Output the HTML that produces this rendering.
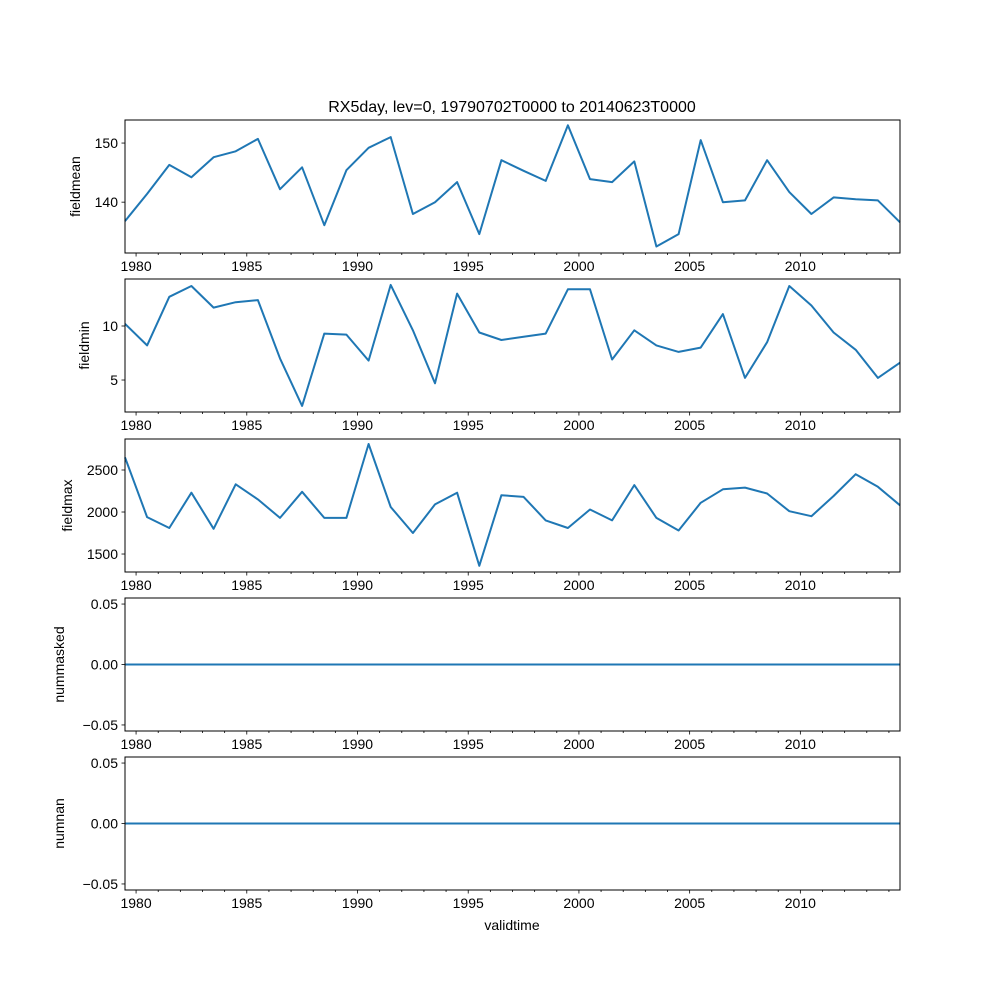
<!DOCTYPE html>
<html><head><meta charset="utf-8"><style>
html,body{margin:0;padding:0;background:#fff}
svg text{font-family:"Liberation Sans","DejaVu Sans",sans-serif;fill:#000}
</style></head><body>
<svg id="fig" width="1000" height="1000" xmlns="http://www.w3.org/2000/svg">
<rect width="1000" height="1000" fill="#fff"/>
<text x="512" y="112" font-size="16" text-anchor="middle">RX5day, lev=0, 19790702T0000 to 20140623T0000</text>
<text x="512" y="930" font-size="14" text-anchor="middle">validtime</text>
</svg>
<script>
const years = [];
for (let i = 0; i < 36; i++) years.push(1979.5 + i);
const fieldmean = [136.8,141.4,146.3,144.2,147.6,148.6,150.7,142.2,145.9,136.1,145.4,149.2,151.0,138.0,140.0,143.4,134.6,147.1,145.3,143.6,153.0,143.9,143.4,146.9,132.5,134.6,150.5,140.0,140.3,147.1,141.7,138.0,140.8,140.5,140.3,136.6];
const fieldmin = [10.2,8.2,12.7,13.7,11.7,12.2,12.4,7.0,2.6,9.3,9.2,6.8,13.8,9.6,4.7,13.0,9.4,8.7,9.0,9.3,13.4,13.4,6.9,9.6,8.2,7.6,8.0,11.1,5.2,8.5,13.7,11.9,9.4,7.8,5.2,6.6];
const fieldmax = [2650,1940,1810,2230,1800,2330,2150,1930,2240,1930,1930,2810,2060,1750,2090,2230,1360,2200,2180,1900,1810,2030,1900,2320,1930,1780,2110,2270,2290,2220,2010,1950,2190,2450,2300,2080];
const nummasked = new Array(36).fill(0);
const numnan = new Array(36).fill(0);
const xTicks = [1980,1985,1990,1995,2000,2005,2010];
const panels = [
  {name:'fieldmean', data:fieldmean, lo:131.4, hi:153.9, ticks:[140,150], labels:['140','150'], top:120},
  {name:'fieldmin', data:fieldmin, lo:2.04, hi:14.35, ticks:[5,10], labels:['5','10'], top:279},
  {name:'fieldmax', data:fieldmax, lo:1286, hi:2869, ticks:[1500,2000,2500], labels:['1500','2000','2500'], top:439},
  {name:'nummasked', data:nummasked, lo:-0.055, hi:0.055, ticks:[-0.05,0,0.05], labels:['\u22120.05','0.00','0.05'], top:598},
  {name:'numnan', data:numnan, lo:-0.055, hi:0.055, ticks:[-0.05,0,0.05], labels:['\u22120.05','0.00','0.05'], top:757}
];
const NS='http://www.w3.org/2000/svg';
const svg=document.getElementById('fig');
const L=125,R=900,H=133,X0=1979.5,X1=2014.5;
const xs=t=>L+(t-X0)/(X1-X0)*(R-L);
function mk(tag,attrs,parent){const e=document.createElementNS(NS,tag);for(const k in attrs)e.setAttribute(k,attrs[k]);(parent||svg).appendChild(e);return e;}
panels.forEach(p=>{
  const g=mk('g',{});
  
  
  const T=p.top,B=T+H;
  const ys=v=>B-(v-p.lo)/(p.hi-p.lo)*H;
  const pts=p.data.map((v,i)=>xs(years[i]).toFixed(1)+','+ys(v).toFixed(1)).join(' ');
  const line=mk('polyline',{points:pts,fill:'none',stroke:'#1f77b4','stroke-width':2,'stroke-linejoin':'round'},g);
  
  
  const frame=mk('rect',{x:L,y:T,width:R-L,height:H,fill:'none',stroke:'#000','stroke-width':1},g);
  
  
  for(let yr=1980;yr<=2014;yr++){
    const x=xs(yr), major=xTicks.includes(yr);
    mk('line',{x1:x,x2:x,y1:B,y2:B+(major?3.5:2),stroke:'#000','stroke-width':0.8},g);
    if(major){
      const t=mk('text',{x:x,y:B+18,'font-size':14,'text-anchor':'middle'},g);
      t.textContent=yr;
      
      
    }
  }
  p.ticks.forEach((v,i)=>{
    const y=ys(v);
    mk('line',{x1:L-3.5,x2:L,y1:y,y2:y,stroke:'#000','stroke-width':0.8},g);
    const t=mk('text',{x:L-7,y:y+5,'font-size':14,'text-anchor':'end'},g);
    t.textContent=p.labels[i];
    
    
  });
  const yl={fieldmean:80,fieldmin:89,fieldmax:72,nummasked:64,numnan:64}[p.name];
  const lab=mk('text',{x:yl,y:T+H/2,'font-size':14,'text-anchor':'middle',transform:`rotate(-90 ${yl} ${T+H/2})`},g);
  lab.textContent=p.name;
  
  
});
</script>
</body></html>
